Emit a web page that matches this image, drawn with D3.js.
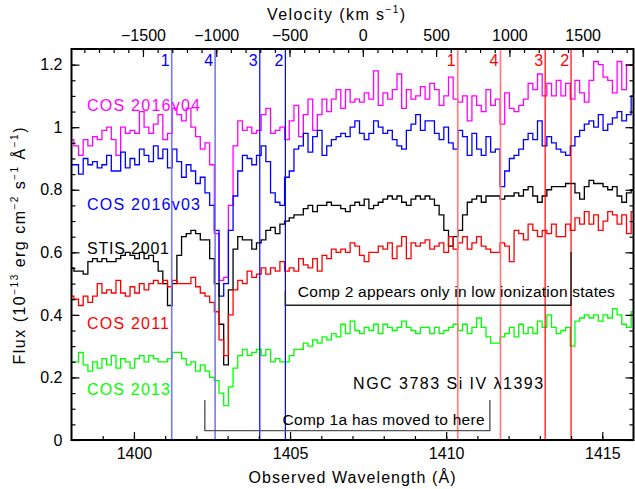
<!DOCTYPE html>
<html>
<head>
<meta charset="utf-8">
<script src="https://cdn.jsdelivr.net/npm/d3@7"></script>
<style>
  body { margin: 0; background: #fff; }
  svg { display: block; font-family: "Liberation Sans", Arial, sans-serif; }
  .ax path { display: none; }
  .ax line { stroke: #000; stroke-width: 1.2; }
  .ax text { font-size: 16px; fill: #000; font-family: "Liberation Sans", Arial, sans-serif; }
</style>
</head>
<body>
<div id="chart"></div>
<script>
// NGC 3783 Si IV 1393 region, five epochs. Fluxes in 1e-13 erg/cm2/s/A,
// one value per 0.15 A bin starting at 1398.00 A.
var binStart = 1398.0, binStep = 0.15;

var cos2016v04 = [
  0.96,0.94,0.91,0.96,0.94,0.97,0.96,0.99,1.00,0.96, 0.91,1.00,0.98,0.99,0.98,1.05,1.00,0.98,1.01,1.04,
  0.96,0.98,1.06,1.04,1.02,1.06,1.00,0.97,0.93,0.95, 0.88,
  0.66,0.51,0.52,0.75,0.94,1.02,0.99,1.00,0.98,0.99, 1.04,1.06,0.98,0.99,1.00,0.96,1.02,1.07,0.97,1.04,
  1.09,0.99,1.04,1.09,1.05,1.09,1.12,1.06,1.12,1.08, 1.09,
  1.08,1.11,1.09,1.18,1.07,1.11,1.09,1.12,1.17,1.06, 1.12,1.09,1.10,1.13,1.09,1.14,1.12,1.07,1.10,1.16,
  1.09,1.08,1.10,1.02,1.10,1.07,1.05,1.12,1.07,1.09,
  1.01,1.11,1.06,1.05,1.07,1.09,1.14,1.12,1.17,1.10, 1.14,1.10,1.15,1.10,1.14,1.09,1.15,1.11,1.08,1.15,
  1.21,1.20,1.16,1.15,1.11,1.21,1.12,1.20,1.20
];
var cos2016v03 = [
  0.88,0.88,0.85,0.90,0.88,0.89,0.87,0.88,0.91,0.86, 0.86,0.92,0.87,0.90,0.88,0.93,0.91,0.89,0.94,0.90,
  0.93,0.87,0.93,0.89,0.84,0.88,0.86,0.82,0.84,0.79, 0.75,
  0.67,0.46,0.50,0.67,0.78,0.86,0.91,0.90,0.88,0.91, 0.94,0.89,0.79,0.76,0.75,0.84,0.86,0.93,0.94,0.98,
  0.92,0.97,0.99,0.91,0.94,0.96,0.97,0.98,0.97,1.00, 1.02,
  0.98,0.96,0.98,1.02,1.00,0.98,0.99,0.96,0.94,0.93, 0.99,1.01,1.04,0.99,1.02,1.02,0.98,0.96,1.00,0.95,
  0.93,0.99,0.97,0.91,0.98,0.93,0.91,0.97,0.92,0.93,
  0.81,0.86,0.90,0.91,0.93,0.96,0.98,0.96,1.02,0.94, 0.97,0.95,0.93,0.92,0.91,0.94,0.97,0.99,1.01,1.02,
  1.00,1.04,0.99,1.01,1.03,1.05,1.02,1.04,1.10
];
var stis2001 = [
  0.55,0.54,0.54,0.53,0.57,0.58,0.57,0.58,0.57,0.57, 0.58,0.59,0.60,0.59,0.58,0.60,0.58,0.59,0.57,0.54,
  0.50,0.43,0.50,0.59,0.65,0.66,0.67,0.66,0.64,0.64, 0.58,
  0.50,0.37,0.24,0.48,0.61,0.65,0.64,0.64,0.61,0.63, 0.64,0.67,0.68,0.66,0.69,0.70,0.71,0.72,0.72,0.74,
  0.75,0.73,0.75,0.75,0.76,0.75,0.75,0.74,0.73,0.75, 0.76,
  0.75,0.77,0.74,0.75,0.76,0.77,0.78,0.77,0.78,0.76, 0.75,0.77,0.78,0.77,0.78,0.77,0.75,0.72,0.67,0.62,
  0.65,0.67,0.72,0.76,0.77,0.78,0.76,0.78,0.78,0.78,
  0.77,0.78,0.78,0.79,0.78,0.80,0.81,0.78,0.76,0.78, 0.80,0.81,0.81,0.81,0.82,0.82,0.79,0.77,0.81,0.83,
  0.82,0.82,0.81,0.80,0.81,0.78,0.76,0.79,0.80
];
var cos2011 = [
  0.46,0.45,0.43,0.46,0.44,0.46,0.50,0.47,0.48,0.47, 0.51,0.47,0.46,0.49,0.47,0.50,0.48,0.50,0.51,0.50,
  0.51,0.49,0.51,0.50,0.50,0.50,0.52,0.49,0.47,0.46, 0.44,
  0.41,0.32,0.27,0.40,0.48,0.51,0.50,0.54,0.52,0.53, 0.55,0.53,0.55,0.54,0.57,0.54,0.55,0.54,0.58,0.56,
  0.55,0.58,0.54,0.59,0.58,0.61,0.60,0.61,0.60,0.63, 0.62,
  0.59,0.57,0.60,0.60,0.62,0.61,0.63,0.58,0.62,0.65, 0.58,0.63,0.62,0.63,0.64,0.61,0.62,0.63,0.60,0.65,
  0.61,0.63,0.65,0.61,0.63,0.65,0.62,0.61,0.60,0.60,
  0.63,0.62,0.57,0.67,0.66,0.64,0.69,0.67,0.65,0.67, 0.66,0.69,0.65,0.65,0.69,0.67,0.71,0.69,0.73,0.69,
  0.72,0.67,0.70,0.73,0.72,0.69,0.72,0.66,0.73
];
var cos2013 = [
  0.25,0.25,0.28,0.24,0.22,0.25,0.23,0.26,0.24,0.27, 0.23,0.26,0.25,0.23,0.26,0.27,0.25,0.27,0.26,0.25,
  0.25,0.26,0.28,0.28,0.26,0.24,0.25,0.22,0.24,0.22, 0.20,
  0.19,0.15,0.11,0.17,0.23,0.27,0.29,0.27,0.28,0.29, 0.27,0.29,0.25,0.26,0.25,0.25,0.27,0.29,0.29,0.31,
  0.30,0.32,0.31,0.33,0.32,0.34,0.33,0.37,0.34,0.38, 0.35,
  0.34,0.36,0.35,0.37,0.34,0.37,0.36,0.35,0.36,0.38, 0.36,0.35,0.34,0.36,0.36,0.34,0.36,0.34,0.35,0.36,
  0.37,0.35,0.37,0.34,0.36,0.39,0.36,0.33,0.31,0.31,
  0.33,0.34,0.36,0.33,0.37,0.34,0.36,0.34,0.38,0.36, 0.40,0.36,0.34,0.35,0.36,0.30,0.38,0.39,0.40,0.39,
  0.40,0.38,0.40,0.39,0.42,0.40,0.37,0.36,0.41
];

var seriesNames = ["COS 2016v04", "COS 2016v03", "STIS 2001", "COS 2011", "COS 2013"];
var seriesColors = ["#ff00ff", "#0000ff", "#000000", "#ff0000", "#00ff00"];
var seriesLabelFlux = [1.07, 0.756, 0.615, 0.375, 0.164];
var seriesLabelWidth = [113, 113, 82, 82, 83];

// absorption components (Si IV 1393 in blue, 1402 in red)
var componentIds = ["1", "4", "3", "2"];
var blueLineWaves = [1401.21, 1402.60, 1404.03, 1404.85];
var redLineWaves = [1410.37, 1411.74, 1413.17, 1414.00];

var waveTicks = [1400, 1405, 1410, 1415];
var fluxTicks = [0, 0.2, 0.4, 0.6, 0.8, 1, 1.2];
var velocityTicks = [-1500, -1000, -500, 0, 500, 1000, 1500];
var restWave = 1393.755, zSys = 0.00974, cLight = 299792.458;

var W = 635, H = 489;
var svg = d3.select("#chart").append("svg").attr("width", W).attr("height", H);

var x = d3.scaleLinear().domain([1398, 1416]).range([71.5, 633.5]);
var y = d3.scaleLinear().domain([0, 1.25]).range([440, 49]);
var lam0 = restWave * (1 + zSys);
function toVel(l) { return cLight * (l / lam0 - 1); }
var v = d3.scaleLinear().domain(x.domain().map(toVel)).range(x.range());

svg.append("clipPath").attr("id", "plot").append("rect")
  .attr("x", x(1398)).attr("y", y(1.25)).attr("width", x(1416) - x(1398)).attr("height", y(0) - y(1.25));

// spectra
var step = d3.line().curve(d3.curveStep)
  .x(function (d, i) { return x(binStart + i * binStep); })
  .y(function (d) { return y(d); });
var allSeries = [cos2016v04, cos2016v03, stis2001, cos2011, cos2013];
var g = svg.append("g").attr("clip-path", "url(#plot)");
allSeries.forEach(function (s, k) {
  g.append("path").attr("d", step(s)).attr("fill", "none")
    .attr("stroke", seriesColors[k]).attr("stroke-width", 1.3);
});

// component lines
function compLines(waves, dark, light) {
  waves.forEach(function (w, i) {
    var faint = i < 2;
    g.append("line").attr("x1", x(w)).attr("x2", x(w)).attr("y1", y(1.25)).attr("y2", y(0))
      .attr("stroke", faint ? light : dark).attr("stroke-width", faint ? 1.6 : 1.2);
    svg.append("text").attr("x", x(w) - 2).attr("y", 66).attr("text-anchor", "end")
      .attr("font-size", 16).attr("fill", dark).text(componentIds[i]);
  });
}
compLines(blueLineWaves, "#0000ff", "#7777ff");
compLines(redLineWaves, "#ff0000", "#ff7777");

// series labels
seriesNames.forEach(function (n, k) {
  svg.append("text").attr("x", 87).attr("y", y(seriesLabelFlux[k]) + 6)
    .attr("font-size", 16).attr("fill", seriesColors[k])
    .attr("textLength", seriesLabelWidth[k]).attr("lengthAdjust", "spacing").text(n);
});

// annotations
function bracket(w0, w1, f, f0, f1, col) {
  svg.append("path").attr("fill", "none").attr("stroke", col).attr("stroke-width", 1.4)
    .attr("d", "M" + x(w0) + "," + y(f0) + "V" + y(f) + "H" + x(w1) + "V" + y(f1));
}
function note(w, f, size, len, str) {
  svg.append("text").attr("x", x(w)).attr("y", y(f)).attr("font-size", size)
    .attr("textLength", len).attr("lengthAdjust", "spacing").text(str);
}
bracket(1404.85, 1414.0, 0.431, 0.477, 0.601, "#222");
note(1405.25, 0.456, 15.5, 317, "Comp 2 appears only in low ionization states");
bracket(1402.27, 1411.40, 0.030, 0.128, 0.128, "#555");
note(1404.76, 0.048, 15.5, 202, "Comp 1a has moved to here");
note(1407.02, 0.163, 16, 190, "NGC 3783 Si IV λ1393");

// axes
function fmt(d) { return String(d); }
svg.append("g").attr("class", "ax").attr("transform", "translate(0,440)")
  .call(d3.axisBottom(x).tickValues(d3.range(1399, 1416, 1)).tickSize(-4).tickFormat(""));
svg.append("g").attr("class", "ax").attr("transform", "translate(0,440)")
  .call(d3.axisBottom(x).tickValues(waveTicks).tickSize(-8).tickPadding(8).tickFormat(fmt));
svg.append("g").attr("class", "ax").attr("transform", "translate(71.5,0)")
  .call(d3.axisLeft(y).tickValues(d3.range(0.05, 1.25, 0.05)).tickSize(-4).tickFormat(""));
svg.append("g").attr("class", "ax").attr("transform", "translate(71.5,0)")
  .call(d3.axisLeft(y).tickValues(fluxTicks).tickSize(-8).tickPadding(9).tickFormat(fmt));
svg.append("g").attr("class", "ax").attr("transform", "translate(633.5,0)")
  .call(d3.axisRight(y).tickValues(d3.range(0.05, 1.25, 0.05)).tickSize(-4).tickFormat(""));
svg.append("g").attr("class", "ax").attr("transform", "translate(633.5,0)")
  .call(d3.axisRight(y).tickValues(fluxTicks).tickSize(-8).tickFormat(""));
svg.append("g").attr("class", "ax").attr("transform", "translate(0,49)")
  .call(d3.axisTop(v).tickValues(d3.range(-1900, 1900, 100)).tickSize(-4).tickFormat(""));
svg.append("g").attr("class", "ax").attr("transform", "translate(0,49)")
  .call(d3.axisTop(v).tickValues(velocityTicks).tickSize(-8).tickPadding(8).tickFormat(d3.format("d")));

svg.append("rect").attr("x", x(1398)).attr("y", y(1.25)).attr("width", x(1416) - x(1398))
  .attr("height", y(0) - y(1.25)).attr("fill", "none").attr("stroke", "#000").attr("stroke-width", 2);

// axis titles: parts alternate normal / superscript
function titled(t, parts) {
  parts.forEach(function (p, i) {
    var s = t.append("tspan").text(p);
    if (i % 2 === 1) s.attr("font-size", 10).attr("dy", -7);
    else if (i > 0) s.attr("dy", 7);
  });
}
var tt = svg.append("text").attr("x", 336).attr("y", 20).attr("text-anchor", "middle")
  .attr("font-size", 16).attr("textLength", 138).attr("lengthAdjust", "spacing");
titled(tt, ["Velocity (km s", "−1", ")"]);

svg.append("text").attr("x", 352).attr("y", 483).attr("text-anchor", "middle")
  .attr("font-size", 16).attr("textLength", 207).attr("lengthAdjust", "spacing")
  .text("Observed Wavelength (Å)");

var yl = svg.append("text").attr("transform", "translate(25,246) rotate(-90)")
  .attr("text-anchor", "middle").attr("font-size", 16)
  .attr("textLength", 237).attr("lengthAdjust", "spacing");
titled(yl, ["Flux (10", "−13", " erg cm", "−2", " s", "−1", " Å", "−1", ")"]);
</script>
</body>
</html>
